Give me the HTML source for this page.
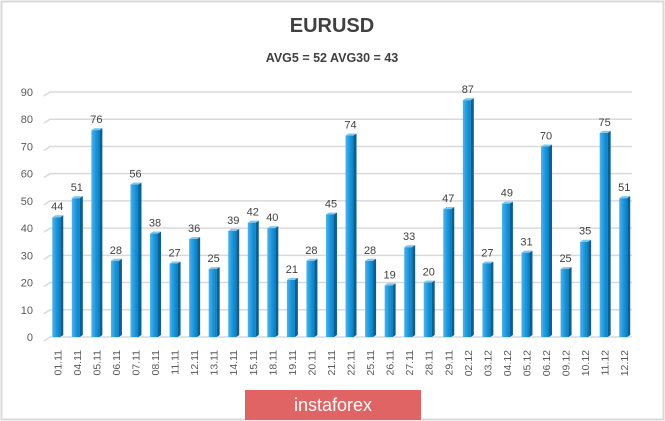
<!DOCTYPE html>
<html><head><meta charset="utf-8"><style>
body{margin:0;background:#fff;font-family:"Liberation Sans",sans-serif}
#wrap{position:relative;width:665px;height:421px;overflow:hidden}
</style></head><body>
<div id="wrap">
<svg id="chart" width="665" height="421">
<defs>
<linearGradient id="bg" x1="0" x2="1" y1="0" y2="0">
<stop offset="0" stop-color="#4fb3ec"/><stop offset="0.5" stop-color="#1a9ae0"/><stop offset="1" stop-color="#0a7fc4"/>
</linearGradient>
</defs>
<rect x="1.5" y="1.5" width="662" height="418" fill="#fff" stroke="#d9d9d9" stroke-width="2"/>
<text x="332" y="32" text-anchor="middle" font-size="20" font-weight="bold" fill="#404040">EURUSD</text>
<text x="332" y="62" text-anchor="middle" font-size="12.5" font-weight="bold" fill="#404040">AVG5 = 52 AVG30 = 43</text>
<g id="grid"></g><g id="bars"></g><g id="labels"></g>
<rect x="245" y="390" width="176" height="30" fill="#e16464"/>
<text x="333" y="411" text-anchor="middle" font-size="18" fill="#fff">instaforex</text>
</svg>
</div>
<script>
const categories=["01.11","04.11","05.11","06.11","07.11","08.11","11.11","12.11","13.11","14.11","15.11","18.11","19.11","20.11","21.11","22.11","25.11","26.11","27.11","28.11","29.11","02.12","03.12","04.12","05.12","06.12","09.12","10.12","11.12","12.12"];
const values=[44,51,76,28,56,38,27,36,25,39,42,40,21,28,45,74,28,19,33,20,47,87,27,49,31,70,25,35,75,51];
const yTicks=[0,10,20,30,40,50,60,70,80,90];
const NS="http://www.w3.org/2000/svg";
const y0=337,y90=92,x0=47.5,step=19.55;
function yS(v){return y0-(v/90)*(y0-y90);}
function xS(i){return x0+step*(i+0.5);}
function mk(t,a,p){const e=document.createElementNS(NS,t);for(const k in a)e.setAttribute(k,a[k]);p.appendChild(e);return e;}
const grid=document.getElementById('grid'),bars=document.getElementById('bars'),labels=document.getElementById('labels');
yTicks.forEach(t=>{
 const y=yS(t);
 const l=mk('polyline',{points:`44,${y+4} 50,${y} 632,${y}`,fill:'none',stroke:'#d9d9d9','stroke-width':1.5},grid);
 
 
 const tx=mk('text',{x:33,y:y+4,'text-anchor':'end','font-size':11,fill:'#595959'},grid);
 tx.textContent=t;
 
 
});
values.forEach((v,i)=>{
 const cx=xS(i),top=yS(v);
 const g=mk('g',{},bars);
 
 
 mk('rect',{x:cx-5,y:top,width:8,height:y0-top,fill:'url(#bg)'},g);
 mk('polygon',{points:`${cx+3},${top} ${cx+6},${top-2} ${cx+6},${y0-2} ${cx+3},${y0}`,fill:'#0b5f93'},g);
 mk('polygon',{points:`${cx-5},${top} ${cx-2},${top-2} ${cx+6},${top-2} ${cx+3},${top}`,fill:'#7cc8f2'},g);
 const vt=mk('text',{x:cx,y:top-7,'text-anchor':'middle','font-size':11,fill:'#404040'},labels);
 vt.textContent=v;
 
 
 const ct=mk('text',{x:0,y:0,'text-anchor':'end','font-size':10.5,fill:'#595959',transform:`translate(${cx+4},350) rotate(-90)`},labels);
 ct.textContent=categories[i];
 
 
});
</script>
</body></html>
